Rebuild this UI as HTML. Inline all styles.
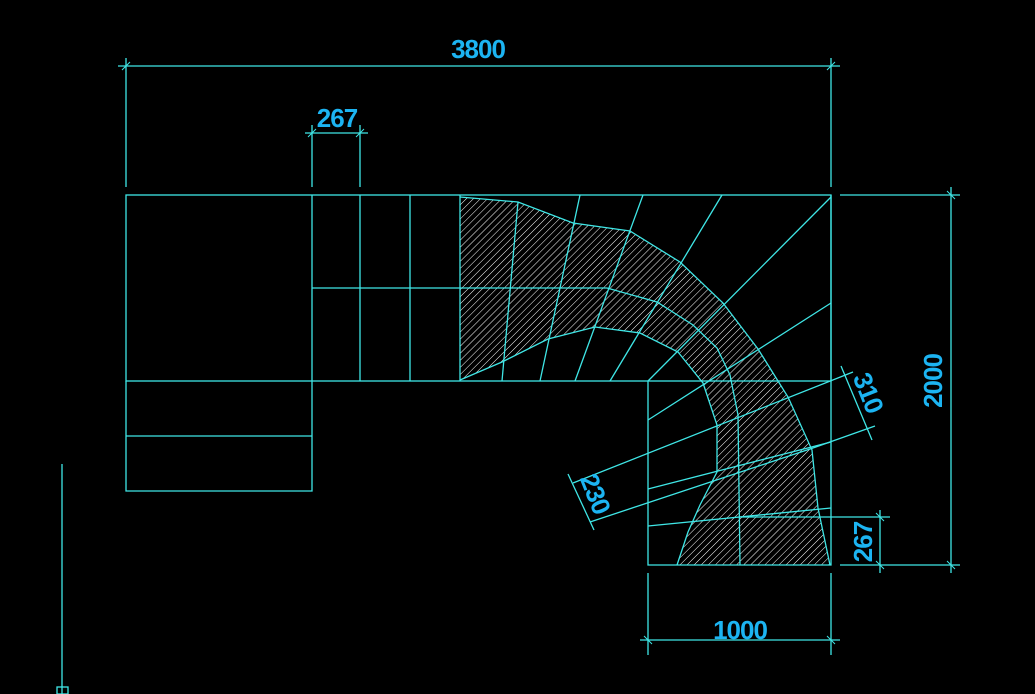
<!DOCTYPE html>
<html><head><meta charset="utf-8"><style>
html,body{margin:0;padding:0;background:#000;}
svg{display:block}
text{font-family:"Liberation Sans",sans-serif;fill:#1cb4f2;font-size:26px;font-weight:bold;letter-spacing:-1px;}
</style></head><body>
<svg width="1035" height="694" viewBox="0 0 1035 694" xmlns="http://www.w3.org/2000/svg">
<defs>
<pattern id="h" patternUnits="userSpaceOnUse" width="5" height="5" patternTransform="rotate(45)">
<line x1="0" y1="0" x2="0" y2="5" stroke="#fff" stroke-width="1"/>
</pattern>
</defs>
<polygon fill="url(#h)" points="460,197 518,202 573,223 630,231 680,262 723,303 758,349 788,397 812,450 818,508 830,565 677,565 688,532 700,505 717,472 717,425 703,383 678,352 640,333 595,327 548,339 502,362 460,380"/>
<g stroke="#3fe6e6" stroke-width="1.3" fill="none">
<rect x="126" y="195" width="705" height="186"/>
<polyline points="126,381 126,491 312,491 312,195"/>
<line x1="126" y1="436" x2="312" y2="436"/>
<line x1="360" y1="195" x2="360" y2="381"/>
<line x1="410" y1="195" x2="410" y2="381"/>
<line x1="460" y1="195" x2="460" y2="381"/>
<line x1="312" y1="288" x2="607" y2="288"/>
<polyline points="648,381 648,565 831,565 831,195"/>
<polyline points="460,197 518,202 573,223 630,231 680,262 723,303 758,349 788,397 812,450 818,508 830,565"/>
<polyline points="460,380 502,362 548,339 595,327 640,333 678,352 703,383 717,425 717,472 700,505 688,532 677,565"/>
<polyline points="607,288 657,302 693,325 717,348 730,375 738,415 740,565"/>
<line x1="518" y1="202" x2="502" y2="381"/>
<line x1="580" y1="195" x2="540" y2="381"/>
<line x1="643" y1="195" x2="575" y2="381"/>
<line x1="722" y1="195" x2="610" y2="381"/>
<line x1="831" y1="197" x2="648" y2="381"/>
<line x1="831" y1="303" x2="648" y2="420"/>
<line x1="831" y1="442" x2="648" y2="489"/>
<line x1="831" y1="508" x2="648" y2="526"/>
<line x1="118" y1="66" x2="840" y2="66"/>
<line x1="126" y1="58" x2="126" y2="187"/>
<line x1="831" y1="58" x2="831" y2="187"/>
<line x1="305" y1="133" x2="368" y2="133"/>
<line x1="312" y1="125" x2="312" y2="187"/>
<line x1="360" y1="125" x2="360" y2="187"/>
<line x1="951" y1="187" x2="951" y2="573"/>
<line x1="840" y1="195" x2="960" y2="195"/>
<line x1="840" y1="565" x2="960" y2="565"/>
<line x1="880" y1="510" x2="880" y2="573"/>
<line x1="740" y1="517" x2="890" y2="517"/>
<line x1="640" y1="640" x2="840" y2="640"/>
<line x1="648" y1="573" x2="648" y2="655"/>
<line x1="831" y1="573" x2="831" y2="655"/>
<line x1="853" y1="372" x2="573" y2="483"/>
<line x1="875" y1="426" x2="813" y2="448"/>
<line x1="813" y1="448" x2="590" y2="522"/>
<line x1="841" y1="366" x2="872" y2="440"/>
<line x1="568" y1="474" x2="594" y2="530"/>
<line x1="62" y1="464" x2="62" y2="694"/>
<rect x="57" y="687" width="11" height="7"/>
</g>
<g stroke="#3fe6e6" stroke-width="1">
<line x1="122" y1="70" x2="130" y2="62"/><line x1="827" y1="70" x2="835" y2="62"/>
<line x1="308" y1="137" x2="316" y2="129"/><line x1="356" y1="137" x2="364" y2="129"/>
<line x1="947" y1="191" x2="955" y2="199"/><line x1="947" y1="561" x2="955" y2="569"/>
<line x1="876" y1="513" x2="884" y2="521"/><line x1="876" y1="561" x2="884" y2="569"/>
<line x1="644" y1="636" x2="652" y2="644"/><line x1="827" y1="636" x2="835" y2="644"/>
</g>
<text x="478" y="58" text-anchor="middle">3800</text>
<text x="337" y="127" text-anchor="middle">267</text>
<text x="740" y="639" text-anchor="middle">1000</text>
<text transform="translate(942,381) rotate(-90)" text-anchor="middle">2000</text>
<text transform="translate(872,542) rotate(-90)" text-anchor="middle">267</text>
<text transform="translate(860,396) rotate(68)" text-anchor="middle">310</text>
<text transform="translate(587,497) rotate(68)" text-anchor="middle">230</text>
</svg>
</body></html>
